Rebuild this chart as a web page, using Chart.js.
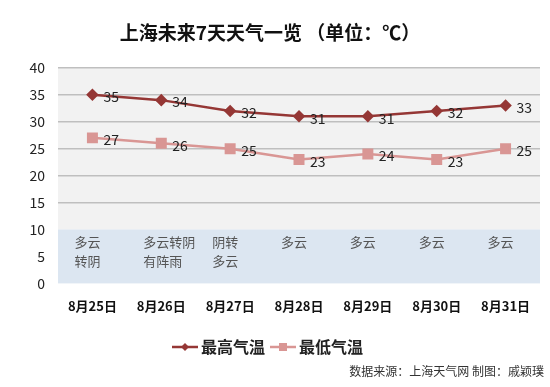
<!DOCTYPE html>
<html>
<head>
<meta charset="utf-8">
<script src="https://cdn.jsdelivr.net/npm/chart.js@4"></script>
<style>
	html, body { margin: 0; padding: 0; background: #fff; }
</style>
</head>
<body>
<canvas id="weather" width="550" height="387"></canvas>
<script>
// données
const days = ['8月25日', '8月26日', '8月27日', '8月28日', '8月29日', '8月30日', '8月31日']
const high_temp = [35, 34, 32, 31, 31, 32, 33]
const low_temp = [27, 26, 25, 23, 24, 23, 25]
const weather = [['多云', '转阴'], ['多云转阴', '有阵雨'], ['阴转', '多云'], ['多云'], ['多云'], ['多云'], ['多云']]
const y_ticks = [0, 5, 10, 15, 20, 25, 30, 35, 40]

const cjk = '"Noto Sans CJK SC", "Noto Sans", sans-serif'
Chart.defaults.font.family = cjk

const high_color = '#953735'
const low_color = '#d99694'

// petite icône de légende : trait + marqueur
function legend_icon(color, style) {
	const c = document.createElement('canvas')
	c.width = 26
	c.height = 12
	const ctx = c.getContext('2d')
	ctx.strokeStyle = color
	ctx.lineWidth = 2.5
	ctx.beginPath()
	ctx.moveTo(0, 6)
	ctx.lineTo(26, 6)
	ctx.stroke()
	ctx.fillStyle = color
	if (style == 'diamond') {
		ctx.beginPath()
		ctx.moveTo(13, 2); ctx.lineTo(17, 6); ctx.lineTo(13, 10); ctx.lineTo(9, 6)
		ctx.closePath()
		ctx.fill()
	} else {
		ctx.fillRect(9, 2, 8, 8)
	}
	return c
}

// fonds, étiquettes, météo, source
const decor = {
	id: 'decor',
	beforeDraw(chart) {
		const { ctx, chartArea: a, scales: { y } } = chart
		const y10 = y.getPixelForValue(10)
		ctx.save()
		ctx.fillStyle = '#f2f2f2'
		ctx.fillRect(a.left, a.top, a.right - a.left, y10 - a.top)
		ctx.fillStyle = '#dce6f1'
		ctx.fillRect(a.left, y10, a.right - a.left, a.bottom - y10)
		ctx.restore()
	},
	afterDatasetsDraw(chart) {
		const { ctx, scales: { x, y } } = chart
		ctx.save()
		ctx.font = '14px ' + cjk
		ctx.fillStyle = '#222'
		ctx.textBaseline = 'middle'
		ctx.textAlign = 'left'
		chart.data.datasets.forEach((ds, i) => {
			chart.getDatasetMeta(i).data.forEach((pt, j) => {
				ctx.fillText(ds.data[j], pt.x + 11, pt.y + 2)
			})
		})
		// météo
		ctx.font = '13px ' + cjk
		ctx.fillStyle = '#555'
		weather.forEach((lines, j) => {
			const px = x.getPixelForValue(j) - 18
			lines.forEach((t, k) => {
				ctx.fillText(t, px, y.getPixelForValue(7.6 - k * 3.4))
			})
		})
		// source
		ctx.font = '12px ' + cjk
		ctx.fillStyle = '#333'
		ctx.textAlign = 'right'
		ctx.fillText('数据来源：上海天气网 制图：戚颖璞', 544, 371)
		ctx.restore()
	}
}

const ctx = document.getElementById('weather')
new Chart(ctx, {
	type: 'line',
	data: {
		labels: days,
		datasets: [
			{
				label: '最高气温',
				data: high_temp,
				borderColor: high_color,
				backgroundColor: high_color,
				borderWidth: 2.5,
				pointStyle: 'rectRot',
				pointRadius: 4.5,
				pointHoverRadius: 4.5
			},
			{
				label: '最低气温',
				data: low_temp,
				borderColor: low_color,
				backgroundColor: low_color,
				borderWidth: 2.5,
				pointStyle: 'rect',
				pointRadius: 6,
				pointHoverRadius: 6
			}
		]
	},
	options: {
		responsive: false,
		animation: false,
		layout: { padding: { left: 0, right: 10, top: 0, bottom: 22 } },
		plugins: {
			title: {
				display: true,
				text: '上海未来7天天气一览 （单位：℃）',
				color: '#111',
				font: { size: 19, weight: 'bold' },
				padding: { top: 21, bottom: 24 }
			},
			legend: {
				position: 'bottom',
				labels: {
					color: '#222',
					font: { size: 16, weight: 'bold' },
					usePointStyle: true,
					padding: 10,
					generateLabels(chart) {
						return chart.data.datasets.map((ds, i) => ({
							text: ds.label,
							pointStyle: legend_icon(ds.borderColor, i == 0 ? 'diamond' : 'square'),
							fillStyle: ds.borderColor,
							strokeStyle: ds.borderColor,
							fontColor: '#222',
							lineWidth: 0,
							datasetIndex: i
						}))
					}
				}
			},
			tooltip: { enabled: false }
		},
		scales: {
			x: {
				offset: true,
				grid: { display: false },
				border: { display: false },
				afterFit(scale) { scale.height += 8 },
				ticks: {
					color: '#111',
					font: { size: 13, weight: 'bold' },
					padding: 7,
					maxRotation: 0
				}
			},
			y: {
				min: 0,
				max: 40,
				afterBuildTicks(scale) {
					scale.ticks = y_ticks.map(v => ({ value: v }))
				},
				afterFit(scale) { scale.width = 58 },
				border: { display: false },
				grid: {
					drawTicks: false,
					lineWidth: 1.5,
					color: (c) => c.tick && c.tick.value >= 15 ? '#bfbfbf' : 'rgba(0,0,0,0)'
				},
				ticks: {
					color: '#222',
					font: { size: 14 },
					padding: 13
				}
			}
		}
	},
	plugins: [decor]
})
</script>
</body>
</html>
